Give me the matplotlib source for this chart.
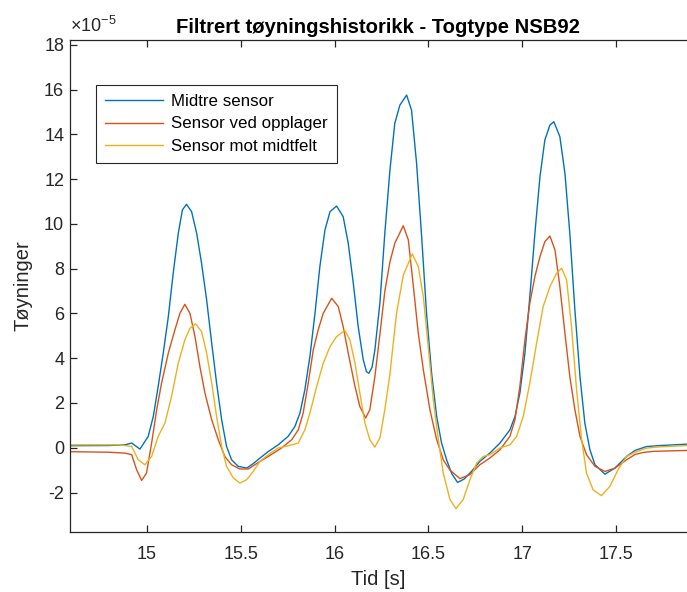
import matplotlib
matplotlib.use("Agg")
import matplotlib.pyplot as plt

plt.rcParams['font.family'] = ['Liberation Sans', 'DejaVu Sans']
plt.rcParams['mathtext.fontset'] = 'custom'
plt.rcParams['mathtext.rm'] = 'Liberation Sans'
plt.rcParams['mathtext.it'] = 'Liberation Sans'
plt.rcParams['axes.unicode_minus'] = False

# ---- data (strain in units of 1e-5) ----
t_mid = [14.55, 14.80, 14.884, 14.92, 14.964, 15.008, 15.035, 15.061, 15.088, 15.115, 15.141,
         15.168, 15.19, 15.212, 15.239, 15.266, 15.292, 15.319, 15.346, 15.372, 15.399,
         15.425, 15.452, 15.487, 15.532, 15.567, 15.603, 15.647, 15.70, 15.753, 15.789,
         15.816, 15.842, 15.869, 15.896, 15.922, 15.949, 15.976, 16.011, 16.046, 16.073,
         16.10, 16.126, 16.153, 16.17, 16.183, 16.20, 16.215, 16.242, 16.268, 16.295,
         16.321, 16.348, 16.384, 16.41, 16.437, 16.464, 16.49, 16.517, 16.544, 16.57,
         16.597, 16.624, 16.655, 16.69, 16.73, 16.774, 16.827, 16.881, 16.934, 16.961,
         16.987, 17.014, 17.04, 17.067, 17.094, 17.12, 17.147, 17.168, 17.20, 17.227,
         17.253, 17.28, 17.307, 17.333, 17.36, 17.387, 17.44, 17.493, 17.555, 17.60,
         17.66, 17.715, 17.875, 17.95]
v_mid = [0.09, 0.10, 0.13, 0.21, -0.06, 0.51, 1.4, 2.74, 4.23, 5.86, 7.8,
         9.58, 10.63, 10.88, 10.55, 9.58, 8.24, 6.61, 4.67, 2.89, 1.25,
         0.06, -0.54, -0.83, -0.91, -0.71, -0.46, -0.17, 0.13, 0.51, 0.95,
         1.55, 2.59, 4.08, 6.01, 8.1, 9.73, 10.55, 10.8, 10.33, 9.14,
         7.35, 5.42, 3.93, 3.4, 3.33, 3.6, 4.375, 6.5, 9.6, 12.4,
         14.5, 15.31, 15.76, 15.09, 12.71, 9.43, 6.01, 3.33, 1.4, 0.21,
         -0.54, -1.15, -1.55, -1.4, -1.05, -0.61, -0.24, 0.21, 0.80, 1.4,
         2.44, 4.23, 6.75, 9.58, 12.11, 13.75, 14.42, 14.57, 13.9, 12.26,
         9.58, 6.16, 3.18, 1.1, -0.09, -0.76, -1.18, -0.91, -0.39, -0.12,
         0.05, 0.09, 0.16, 0.17]

t_opp = [14.55, 14.80, 14.884, 14.92, 14.946, 14.973, 14.999, 15.026, 15.053, 15.079, 15.115,
         15.15, 15.177, 15.203, 15.23, 15.257, 15.283, 15.31, 15.346, 15.381, 15.416,
         15.452, 15.496, 15.541, 15.603, 15.647, 15.718, 15.772, 15.807, 15.833, 15.86,
         15.887, 15.913, 15.94, 15.985, 16.02, 16.046, 16.073, 16.109, 16.135, 16.166,
         16.188, 16.215, 16.242, 16.268, 16.295, 16.321, 16.366, 16.393, 16.42, 16.446,
         16.473, 16.508, 16.544, 16.579, 16.615, 16.668, 16.721, 16.774, 16.827, 16.881,
         16.934, 16.961, 16.987, 17.014, 17.04, 17.067, 17.094, 17.12, 17.147, 17.174,
         17.20, 17.227, 17.253, 17.28, 17.307, 17.342, 17.387, 17.44, 17.493, 17.555,
         17.60, 17.644, 17.70, 17.875, 17.95]
v_opp = [-0.17, -0.20, -0.24, -0.31, -0.98, -1.46, -1.13, 0.21, 1.7, 2.89, 4.23,
         5.27, 6.01, 6.41, 6.01, 4.97, 3.63, 2.44, 1.25, 0.36, -0.39,
         -0.76, -0.95, -0.95, -0.61, -0.39, -0.01, 0.36, 0.8, 1.55, 2.89,
         4.375, 5.27, 6.01, 6.68, 6.31, 5.42, 4.23, 2.74, 1.84, 1.33,
         1.7, 3.18, 5.1, 7.0, 8.3, 9.14, 9.92, 9.29, 7.2, 5.12,
         3.48, 1.7, 0.36, -0.54, -1.0, -1.38, -1.2, -0.76, -0.46, -0.09,
         0.51, 1.25, 2.74, 4.82, 6.46, 7.65, 8.54, 9.21, 9.46, 8.84,
         7.2, 5.12, 3.18, 1.7, 0.51, -0.31, -0.83, -1.06, -0.91, -0.54,
         -0.3, -0.21, -0.16, -0.12, -0.12]

t_felt = [14.55, 14.85, 14.92, 14.955, 14.99, 15.026, 15.061, 15.097, 15.132, 15.168, 15.203,
          15.23, 15.26, 15.292, 15.319, 15.346, 15.372, 15.399, 15.425, 15.461, 15.496,
          15.532, 15.567, 15.603, 15.647, 15.70, 15.753, 15.807, 15.842, 15.869, 15.905,
          15.94, 15.976, 16.011, 16.055, 16.082, 16.109, 16.135, 16.162, 16.188, 16.215,
          16.242, 16.268, 16.295, 16.33, 16.366, 16.414, 16.446, 16.473, 16.499, 16.526,
          16.553, 16.579, 16.615, 16.647, 16.685, 16.721, 16.757, 16.792, 16.827, 16.881,
          16.934, 16.97, 17.005, 17.04, 17.076, 17.111, 17.147, 17.183, 17.209, 17.236,
          17.262, 17.289, 17.316, 17.342, 17.377, 17.422, 17.466, 17.51, 17.555, 17.60,
          17.66, 17.715, 17.875, 17.95]
v_felt = [0.13, 0.13, 0.06, -0.54, -0.76, -0.39, 0.51, 1.1, 2.29, 3.78, 4.82,
          5.34, 5.54, 5.19, 4.23, 2.89, 1.4, 0.06, -0.83, -1.35, -1.58,
          -1.43, -1.06, -0.61, -0.31, -0.01, 0.09, 0.21, 0.8, 1.55, 2.74,
          3.78, 4.52, 4.97, 5.24, 4.82, 3.78, 2.44, 1.1, 0.36, 0.03,
          0.45, 1.7, 3.3, 6.0, 7.7, 8.66, 8.1, 6.75, 4.52, 2.14,
          0.36, -1.13, -2.32, -2.72, -2.32, -1.43, -0.68, -0.39, -0.31, -0.01,
          0.13, 0.51, 1.4, 2.89, 4.67, 6.31, 7.2, 7.8, 8.02, 7.5,
          5.42, 2.59, 0.36, -1.13, -1.88, -2.14, -1.73, -0.98, -0.39, -0.2,
          -0.02, 0.03, 0.1, 0.1]

labels = ['Midtre sensor', 'Sensor ved opplager', 'Sensor mot midtfelt']
colors = ['#0072BD', '#D95319', '#EDB120']
x_ticks = [15, 15.5, 16, 16.5, 17, 17.5]
x_ticklabels = ['15', '15.5', '16', '16.5', '17', '17.5']
y_ticks = [-2, 0, 2, 4, 6, 8, 10, 12, 14, 16, 18]

dark = '#262626'
fig = plt.figure(figsize=(6.87, 5.92), dpi=100)
ax = fig.add_axes([0.1015, 0.1019, 0.8985, 0.8305])

for t, v, lab, c in zip([t_mid, t_opp, t_felt], [v_mid, v_opp, v_felt], labels, colors):
    ax.plot(t, v, color=c, lw=1.0, label=lab)

ax.set_xlim(14.59, 17.877)
ax.set_ylim(-3.75, 18.22)
ax.set_xticks(x_ticks)
ax.set_xticklabels(x_ticklabels)
ax.set_yticks(y_ticks)
ax.set_yticklabels([str(v) for v in y_ticks])

for s in ['left', 'bottom', 'top']:
    ax.spines[s].set_color(dark)
    ax.spines[s].set_linewidth(0.9)
ax.spines['right'].set_visible(False)
ax.tick_params(direction='in', length=5, width=0.9, color=dark, labelcolor=dark,
               labelsize=13, top=True, right=False)
ax.tick_params(axis='x', pad=10.5)
ax.tick_params(axis='y', pad=4)

ax.set_xlabel('Tid [s]', fontsize=14.5, color=dark, labelpad=5)
ax.set_ylabel('Tøyninger', fontsize=14.5, color=dark, labelpad=8)
ax.set_title('Filtrert tøyningshistorikk - Togtype NSB92', fontsize=14.6,
             fontweight='bold', color='black', pad=5)
ax.text(0.0, 1.008, r'$\times10^{-5}$', transform=ax.transAxes, fontsize=13,
        color=dark, ha='left', va='bottom')

leg = ax.legend(loc='upper left', bbox_to_anchor=(0.0426, 0.9085), borderaxespad=0,
                fontsize=12.2, handlelength=3.4, handletextpad=0.45, labelspacing=0.42,
                borderpad=0.55, fancybox=False, framealpha=1, edgecolor=dark)
leg.get_frame().set_linewidth(0.8)
for txt in leg.get_texts():
    txt.set_color('black')

fig.savefig('out.png', dpi=100)
